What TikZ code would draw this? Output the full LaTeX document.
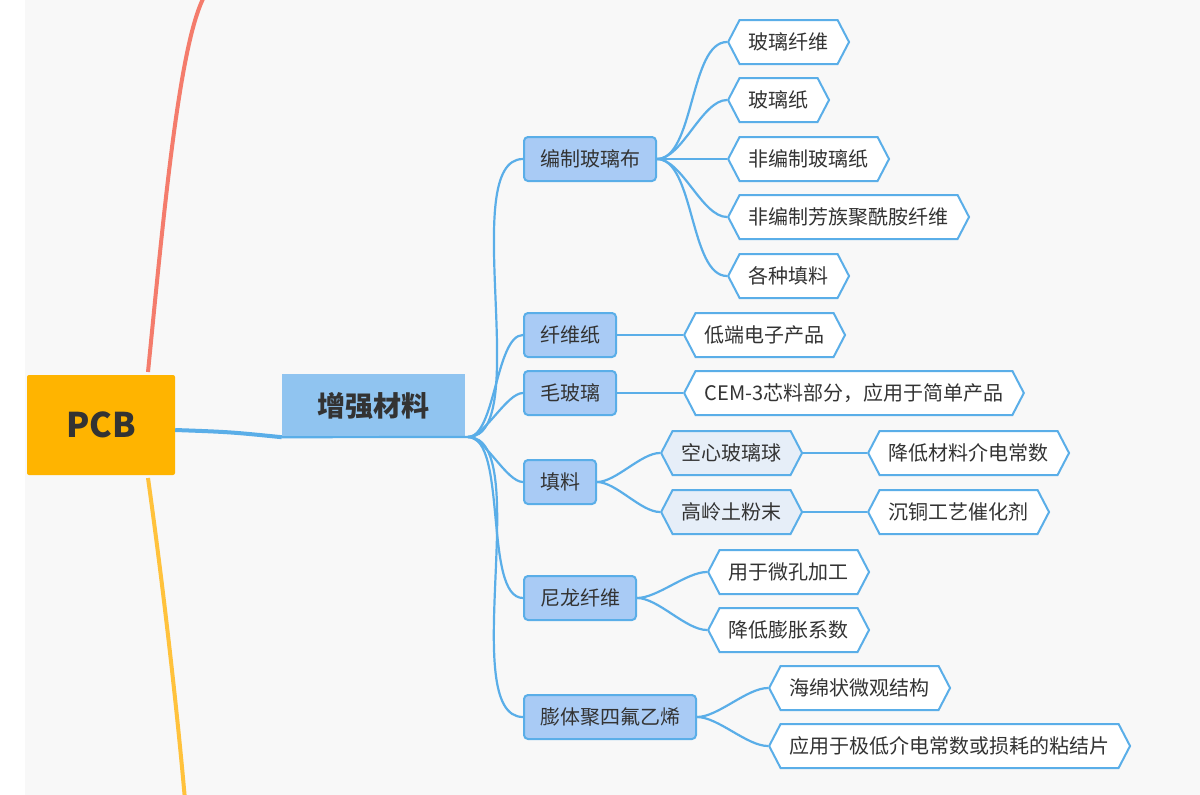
\documentclass[tikz,border=0pt]{standalone}
\usepackage{fontspec}
\setmainfont{Noto Sans CJK SC}
\usetikzlibrary{shapes.symbols}
\definecolor{bgcol}{HTML}{F8F8F8}
\definecolor{linkblue}{HTML}{5AAEE8}
\definecolor{subfill}{HTML}{A9CBF5}
\definecolor{mainfill}{HTML}{90C4F0}
\definecolor{leaffill}{HTML}{E6EEF8}
\definecolor{pcbfill}{HTML}{FFB400}
\definecolor{redline}{HTML}{F47C6C}
\definecolor{yellowline}{HTML}{FFC23C}
\definecolor{txt}{HTML}{333333}

\tikzset{
  sub/.style={draw=linkblue, fill=subfill, line width=2pt, rounded corners=4pt,
    minimum height=44, inner xsep=16, anchor=west, text=txt, font=\fontsize{20}{22}\selectfont},
  leaf/.style={draw=linkblue, fill=white, line width=2pt, shape=signal,
    signal to=east and west, signal pointer angle=125, minimum height=44,
    inner xsep=9, anchor=west, text=txt, font=\fontsize{20}{22}\selectfont},
  midleaf/.style={leaf, fill=leaffill},
  link/.style={draw=linkblue, line width=2.2pt},
}

\begin{document}
\begin{tikzpicture}[x=1pt, y=1pt]
    \fill[white] (0,0) rectangle (1200,-795);
    \fill[bgcol] (25,0) rectangle (1200,-795);
    \useasboundingbox (0,0) rectangle (1200,-795);

    % other branches of PCB
    \draw[line width=4pt, draw=redline] (148,-372) .. controls (165,-200) and (180,-40) .. (205,5);
    \draw[line width=4pt, draw=yellowline] (148,-478) .. controls (165,-600) and (178,-720) .. (185,-800);

    \node[fill=pcbfill, rounded corners=2pt, minimum width=148, minimum height=100, text=txt,
      font=\fontsize{34}{36}\selectfont\bfseries] (pcb) at (101,-425) {PCB};
    \node[fill=mainfill, minimum width=183, minimum height=63, text=txt,
      font=\fontsize{28}{30}\selectfont\bfseries] (main) at (373.5,-405.5) {增强材料};
    \coordinate (hub) at (468,-437);

    \draw[linkblue, line width=4pt] (pcb.east) ++(0,-5) .. controls (230,-432) .. (main.south west);
    \draw[link] (main.south west) -- (hub);

    % second level
    \node[sub] (cloth)  at (523,-159) {编制玻璃布};
    \node[sub] (paper)  at (523,-335) {纤维纸};
    \node[sub] (frost)  at (523,-393) {毛玻璃};
    \node[sub] (filler) at (523,-482) {填料};
    \node[sub] (nylon)  at (523,-598) {尼龙纤维};
    \node[sub] (ptfe)   at (523,-717) {膨体聚四氟乙烯};

    % leaves
    \node[leaf] (gf)    at (727,-42)  {玻璃纤维};
    \node[leaf] (gp)    at (727,-100) {玻璃纸};
    \node[leaf] (ngp)   at (727,-159) {非编制玻璃纸};
    \node[leaf] (nar)   at (727,-217) {非编制芳族聚酰胺纤维};
    \node[leaf] (fill)  at (727,-276) {各种填料};
    \node[leaf] (low)   at (683,-335) {低端电子产品};
    \node[leaf] (cem)   at (683,-393) {CEM-3芯料部分，应用于简单产品};
    \node[midleaf] (hollow) at (660,-453) {空心玻璃球};
    \node[midleaf] (kaolin) at (660,-512) {高岭土粉末};
    \node[leaf] (diel)  at (867,-453) {降低材料介电常数};
    \node[leaf] (cat)   at (867,-512) {沉铜工艺催化剂};
    \node[leaf] (micro) at (707,-572) {用于微孔加工};
    \node[leaf] (expan) at (707,-630) {降低膨胀系数};
    \node[leaf] (sponge) at (768,-688) {海绵状微观结构};
    \node[leaf] (bond)  at (768,-746) {应用于极低介电常数或损耗的粘结片};

    \foreach \b in {cloth, paper, frost, filler, nylon, ptfe}
        \draw[link] (hub) to[out=0, in=180, looseness=0.6] (\b.west);
    \foreach \a/\b in {cloth/gf, cloth/gp, cloth/ngp, cloth/nar, cloth/fill,
                       paper/low, frost/cem, filler/hollow, filler/kaolin,
                       hollow/diel, kaolin/cat, nylon/micro, nylon/expan,
                       ptfe/sponge, ptfe/bond}
        \draw[link] (\a.east) to[out=0, in=180, looseness=0.7] (\b.west);
\end{tikzpicture}
\end{document}
